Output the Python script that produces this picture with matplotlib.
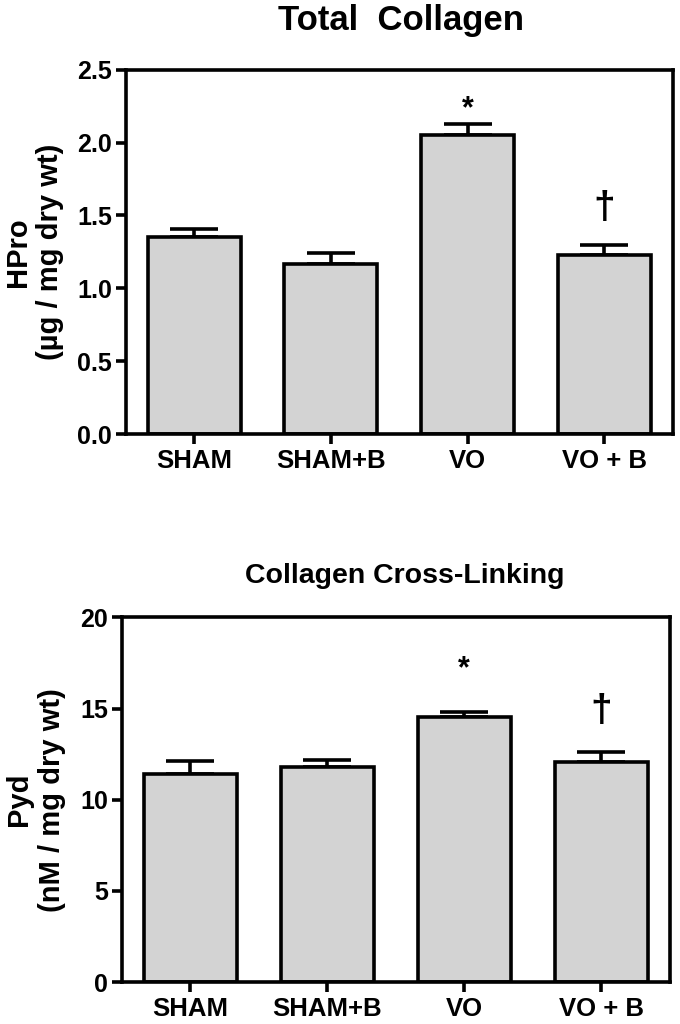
import matplotlib
matplotlib.use("Agg")
import matplotlib.pyplot as plt

# group names and values
groups = ["SHAM", "SHAM+B", "VO", "VO + B"]
hpro_mean = [1.35, 1.17, 2.05, 1.23]
hpro_sem = [0.06, 0.07, 0.08, 0.07]
pyd_mean = [11.4, 11.8, 14.52, 12.05]
pyd_sem = [0.7, 0.4, 0.3, 0.55]
# significance marks and the height (data units) where each one is centred
marks = ["", "", "*", "\u2020"]
hpro_mark_y = [0, 0, 2.27, 1.55]
pyd_mark_y = [0, 0, 17.5, 14.85]

plt.rcParams["font.family"] = ["Liberation Sans", "DejaVu Sans"]
plt.rcParams["font.weight"] = "bold"

LW = 2.6


def draw_panel(ax, means, sems, mark_y, ylim, yticks, yticklabels, ylabel, label_x):
    x = list(range(len(groups)))
    ax.bar(x, means, width=0.68, color="#d3d3d3", edgecolor="black",
           linewidth=LW, zorder=2)
    ax.errorbar(x, means, yerr=[[0] * len(sems), sems], fmt="none",
                ecolor="black", elinewidth=LW, capsize=17, capthick=LW,
                zorder=1)
    for xi, mk, my in zip(x, marks, mark_y):
        if not mk:
            continue
        # shift the baseline so the glyph itself is centred on my
        size = 22 if mk == "*" else 28
        frac = 0.45 if mk == "*" else 0.25
        ax.annotate(mk, (xi, my), xytext=(0, -frac * size),
                    textcoords="offset points", ha="center", va="baseline",
                    fontsize=size, fontweight="bold")
    ax.set_xlim(-0.5, 3.5)
    ax.set_ylim(*ylim)
    ax.set_yticks(yticks)
    ax.set_yticklabels(yticklabels)
    ax.set_xticks(x)
    ax.set_xticklabels(groups)
    for sp in ax.spines.values():
        sp.set_linewidth(LW)
    ax.tick_params(axis="both", width=LW, length=7, labelsize=18, pad=3)
    ax.tick_params(axis="x", labelsize=18.5, pad=4)
    ax.set_ylabel(ylabel, fontsize=21, fontweight="bold", linespacing=1.2,
                  va="center")
    ax.yaxis.set_label_coords(label_x, 0.5)


fig = plt.figure(figsize=(6.8, 10.24), dpi=100)
ax1 = fig.add_axes([0.185, 0.576, 0.804, 0.356])
ax2 = fig.add_axes([0.179, 0.041, 0.806, 0.356])

draw_panel(ax1, hpro_mean, hpro_sem, hpro_mark_y, (0, 2.5),
           [0.0, 0.5, 1.0, 1.5, 2.0, 2.5],
           ["0.0", "0.5", "1.0", "1.5", "2.0", "2.5"],
           "HPro\n(\u00b5g / mg dry wt)", -0.168)
draw_panel(ax2, pyd_mean, pyd_sem, pyd_mark_y, (0, 20),
           [0, 5, 10, 15, 20], ["0", "5", "10", "15", "20"],
           "Pyd\n(nM / mg dry wt)", -0.157)

# panel titles, placed by baseline
fig.text(401 / 680, 1 - 30 / 1024, "Total  Collagen", ha="center",
         va="baseline", fontsize=25, fontweight="bold")
fig.text(405 / 680, 1 - 583 / 1024, "Collagen Cross-Linking", ha="center",
         va="baseline", fontsize=20.5, fontweight="bold")

fig.savefig("out.png", dpi=100)
